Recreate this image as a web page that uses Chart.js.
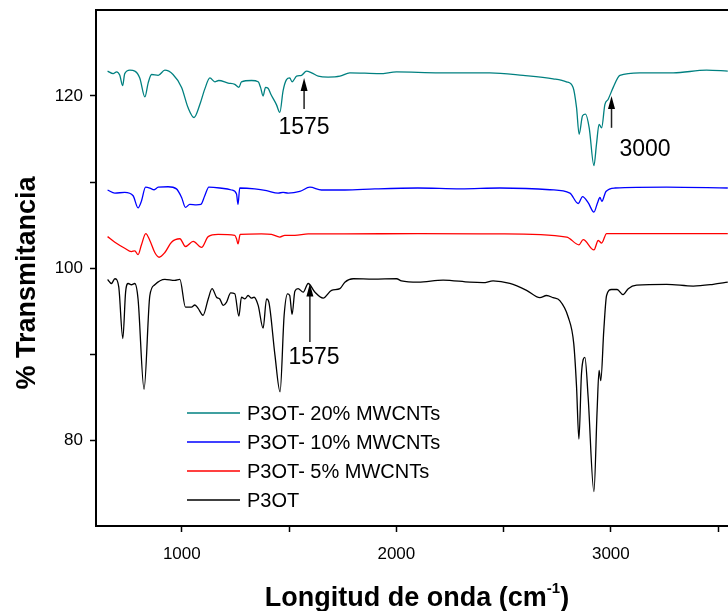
<!DOCTYPE html>
<html>
<head>
<meta charset="utf-8">
<title>FTIR P3OT / MWCNTs</title>
<script src="https://cdn.jsdelivr.net/npm/chart.js@4.4.1/dist/chart.umd.min.js"></script>
<style>
  html, body { margin: 0; padding: 0; background: #fff; }
  #wrap { width: 728px; height: 611px; }
</style>
</head>
<body>
<div id="wrap"><canvas id="ftirChart" width="728" height="611"></canvas></div>
<script>
// Spectra (wavenumber cm-1 / % transmittance)
const wn20 = [654, 680, 696, 711, 724, 734, 758, 781, 804, 828, 843, 859, 890, 921, 959, 999, 1029, 1057, 1084, 1107, 1131, 1154, 1172, 1216, 1247, 1266, 1278, 1325, 1356, 1367, 1379, 1390, 1402, 1415, 1441, 1457, 1472, 1488, 1503, 1514, 1535, 1558, 1581, 1605, 1636, 1682, 1737, 1783, 1923, 2001, 2201, 2436, 2591, 2731, 2793, 2824, 2840, 2852, 2868, 2882, 2899, 2921, 2933, 2945, 2957, 2972, 2987, 3011, 3042, 3135, 3291, 3446, 3545];
const tr20 = [122.9, 122.6, 122.8, 122.4, 121.2, 122.6, 123.0, 122.9, 122.1, 119.9, 121.5, 122.5, 122.4, 123.0, 122.5, 121.0, 118.65, 117.5, 119.0, 120.8, 122.1, 121.65, 121.8, 121.5, 121.35, 121.0, 121.65, 121.8, 121.65, 121.0, 120.0, 121.0, 120.9, 120.2, 119.0, 118.1, 120.6, 121.9, 122.1, 121.65, 122.3, 122.4, 122.9, 122.7, 122.3, 122.2, 122.3, 122.7, 122.6, 122.8, 122.7, 122.7, 122.4, 122.0, 121.65, 121.0, 118.65, 115.55, 117.7, 117.9, 116.3, 111.9, 114.4, 116.7, 116.3, 119.0, 119.6, 121.0, 122.4, 122.7, 122.7, 123.0, 122.9];

const wn10 = [654, 688, 734, 773, 796, 812, 831, 851, 871, 890, 936, 975, 999, 1017, 1037, 1068, 1089, 1107, 1126, 1177, 1232, 1255, 1262, 1270, 1340, 1395, 1449, 1472, 1496, 1550, 1597, 1651, 1760, 1900, 2100, 2300, 2483, 2716, 2809, 2848, 2868, 2894, 2921, 2938, 2949, 2958, 2977, 3019, 3260, 3545];
const tr10 = [109.07, 108.7, 108.8, 108.4, 107.0, 107.8, 109.4, 109.3, 109.1, 109.4, 109.45, 109.2, 108.2, 107.05, 107.4, 107.35, 107.4, 108.4, 109.4, 109.3, 109.07, 108.6, 107.4, 109.3, 109.2, 109.0, 108.7, 108.8, 108.7, 108.9, 109.4, 109.07, 109.07, 109.2, 109.3, 109.2, 109.3, 109.1, 108.7, 107.5, 108.3, 107.6, 106.5, 107.6, 108.2, 107.75, 108.9, 109.3, 109.4, 109.3];

const wn5 = [654, 688, 734, 765, 781, 796, 812, 832, 851, 874, 894, 921, 952, 991, 1017, 1053, 1092, 1123, 1169, 1247, 1255, 1262, 1272, 1371, 1418, 1457, 1480, 1527, 1589, 1760, 2100, 2483, 2794, 2851, 2871, 2921, 2941, 2957, 2980, 3200, 3545];
const tr5 = [103.65, 103.0, 102.3, 101.9, 102.0, 101.55, 102.7, 104.0, 103.2, 101.8, 101.25, 101.8, 103.0, 103.4, 102.5, 103.1, 102.4, 103.65, 103.9, 103.8, 103.4, 102.8, 103.9, 103.96, 103.9, 103.6, 103.8, 103.8, 103.96, 103.96, 104.0, 103.96, 103.6, 102.7, 103.3, 102.1, 103.2, 102.9, 104.0, 104.0, 104.0];

const wn0 = [654, 672, 688, 706, 725, 738, 750, 765, 781, 796, 824, 851, 874, 921, 967, 991, 1017, 1045, 1061, 1076, 1099, 1123, 1141, 1162, 1177, 1193, 1208, 1228, 1247, 1266, 1278, 1294, 1309, 1325, 1337, 1356, 1379, 1395, 1406, 1434, 1458, 1477, 1493, 1503, 1514, 1527, 1542, 1566, 1589, 1620, 1659, 1698, 1737, 1760, 1799, 1892, 2001, 2024, 2102, 2218, 2343, 2405, 2451, 2529, 2607, 2669, 2700, 2731, 2762, 2801, 2827, 2840, 2851, 2863, 2879, 2894, 2921, 2936, 2945, 2953, 2967, 2980, 3003, 3029, 3057, 3081, 3120, 3260, 3384, 3477, 3545];
const tr0 = [98.67, 98.2, 98.75, 97.8, 91.8, 97.2, 98.2, 98.05, 98.2, 96.4, 85.9, 96.8, 98.05, 98.67, 98.55, 98.67, 95.45, 95.45, 95.7, 95.3, 94.5, 96.4, 97.6, 96.6, 96.4, 95.65, 96.0, 97.1, 97.0, 94.4, 96.6, 96.4, 96.8, 96.5, 96.6, 95.65, 93.0, 96.4, 96.0, 89.9, 85.6, 94.5, 97.0, 96.8, 94.6, 97.3, 97.6, 97.2, 98.2, 97.2, 96.5, 97.4, 97.6, 98.35, 98.75, 98.7, 98.75, 98.5, 98.35, 98.6, 98.35, 98.3, 98.5, 98.2, 97.4, 96.55, 96.8, 96.55, 96.2, 94.3, 91.2, 86.2, 80.1, 87.7, 89.6, 85.0, 74.0, 83.5, 88.1, 86.9, 92.75, 96.8, 97.5, 97.5, 96.9, 97.6, 98.0, 98.1, 97.9, 98.1, 98.35];

const seriesNames = ['P3OT- 20% MWCNTs', 'P3OT- 10% MWCNTs', 'P3OT- 5% MWCNTs', 'P3OT'];
const seriesColors = ['#008080', '#0000ff', '#ff0000', '#000000'];

// arrows: wavenumber, tip / tail in % T, label
const arrowX = [1570, 3003, 1597];
const arrowTip = [122.1, 120.0, 98.2];
const arrowTail = [118.5, 116.3, 91.4];
const arrowLabels = ['1575', '3000', '1575'];

// tick marks and which of them carry a label
const xTickValues = [1000, 1500, 2000, 2500, 3000, 3500];
const xTickLabels = [1000, 2000, 3000];
const yTickValues = [80, 90, 100, 110, 120];
const yTickLabels = [80, 100, 120];

const FONT = "'Liberation Sans', Arial, sans-serif";

function pts(xs, ys) {
  return xs.map((x, i) => ({ x: x, y: ys[i] }));
}

// extra drawing: top frame line, axis titles, legend, arrows
const decor = {
  id: 'decor',
  afterDraw(chart) {
    const ctx = chart.ctx;
    const a = chart.chartArea;
    const xs = chart.scales.x, ys = chart.scales.y;
    ctx.save();

    // top frame
    ctx.strokeStyle = '#000';
    ctx.lineWidth = 2;
    ctx.beginPath();
    ctx.moveTo(a.left - 1, a.top);
    ctx.lineTo(chart.width, a.top);
    ctx.stroke();

    // y title
    ctx.fillStyle = '#000';
    ctx.font = 'bold 27px ' + FONT;
    ctx.textAlign = 'center';
    ctx.textBaseline = 'middle';
    ctx.save();
    ctx.translate(28, 283);
    ctx.rotate(-Math.PI / 2);
    ctx.fillText('% Transmitancia', 0, 0);
    ctx.restore();

    // x title with superscript
    const t1 = 'Longitud de onda (cm';
    const sup = '-1';
    const t2 = ')';
    ctx.font = 'bold 27px ' + FONT;
    const w1 = ctx.measureText(t1).width;
    const w3 = ctx.measureText(t2).width;
    ctx.font = 'bold 15px ' + FONT;
    const w2 = ctx.measureText(sup).width;
    let x0 = 417 - (w1 + w2 + w3) / 2;
    ctx.textAlign = 'left';
    ctx.textBaseline = 'alphabetic';
    ctx.font = 'bold 27px ' + FONT;
    ctx.fillText(t1, x0, 606);
    ctx.font = 'bold 15px ' + FONT;
    ctx.fillText(sup, x0 + w1, 593);
    ctx.font = 'bold 27px ' + FONT;
    ctx.fillText(t2, x0 + w1 + w2, 606);

    // legend
    ctx.font = '20px ' + FONT;
    ctx.textBaseline = 'middle';
    seriesNames.forEach((name, i) => {
      const y = 413 + i * 29;
      ctx.strokeStyle = seriesColors[i];
      ctx.lineWidth = 1.5;
      ctx.beginPath();
      ctx.moveTo(187, y);
      ctx.lineTo(240, y);
      ctx.stroke();
      ctx.fillStyle = '#000';
      ctx.fillText(name, 247, y + 1);
    });

    // arrows and labels
    arrowX.forEach((wv, i) => {
      const px = xs.getPixelForValue(wv);
      const tip = ys.getPixelForValue(arrowTip[i]);
      const tail = ys.getPixelForValue(arrowTail[i]);
      ctx.strokeStyle = '#222';
      ctx.lineWidth = 1.5;
      ctx.beginPath();
      ctx.moveTo(px, tail);
      ctx.lineTo(px, tip + 10);
      ctx.stroke();
      ctx.fillStyle = '#000';
      ctx.beginPath();
      ctx.moveTo(px, tip);
      ctx.lineTo(px - 3.5, tip + 13);
      ctx.lineTo(px + 3.5, tip + 13);
      ctx.closePath();
      ctx.fill();
    });
    ctx.font = '23px ' + FONT;
    ctx.textAlign = 'center';
    ctx.textBaseline = 'middle';
    ctx.fillText(arrowLabels[0], 304, 128);
    ctx.fillText(arrowLabels[1], 645, 150);
    ctx.fillText(arrowLabels[2], 314, 358);

    ctx.restore();
  }
};

const ctx = document.getElementById('ftirChart').getContext('2d');
new Chart(ctx, {
  type: 'line',
  data: {
    datasets: [
      { label: seriesNames[0], data: pts(wn20, tr20), borderColor: seriesColors[0] },
      { label: seriesNames[1], data: pts(wn10, tr10), borderColor: seriesColors[1] },
      { label: seriesNames[2], data: pts(wn5, tr5), borderColor: seriesColors[2] },
      { label: seriesNames[3], data: pts(wn0, tr0), borderColor: seriesColors[3] }
    ]
  },
  options: {
    responsive: false,
    animation: false,
    devicePixelRatio: 1,
    layout: { padding: { top: 10, right: 0, left: 0, bottom: 0 } },
    elements: {
      point: { radius: 0 },
      line: { borderWidth: 1.3, fill: false, cubicInterpolationMode: 'monotone' }
    },
    plugins: {
      legend: { display: false },
      tooltip: { enabled: false }
    },
    scales: {
      x: {
        type: 'linear',
        min: 600,
        max: 3546,
        border: { color: '#000', width: 2 },
        grid: { drawOnChartArea: false, tickLength: 6, color: '#000', tickWidth: 1.5 },
        ticks: {
          autoSkip: false,
          maxRotation: 0,
          padding: 12,
          color: '#000',
          font: { family: FONT, size: 17 },
          callback: v => xTickLabels.includes(v) ? String(v) : ''
        },
        afterBuildTicks: s => { s.ticks = xTickValues.map(v => ({ value: v })); },
        afterFit: s => { s.height = 85; s.paddingLeft = 0; s.paddingRight = 0; }
      },
      y: {
        type: 'linear',
        min: 70,
        max: 130,
        border: { color: '#000', width: 2 },
        grid: { drawOnChartArea: false, tickLength: 6, color: '#000', tickWidth: 1.5 },
        ticks: {
          padding: 7,
          color: '#000',
          font: { family: FONT, size: 17 },
          callback: v => yTickLabels.includes(v) ? String(v) : ''
        },
        afterBuildTicks: s => { s.ticks = yTickValues.map(v => ({ value: v })); },
        afterFit: s => { s.width = 96; s.paddingTop = 0; s.paddingBottom = 0; }
      }
    }
  },
  plugins: [decor]
});
</script>
</body>
</html>
